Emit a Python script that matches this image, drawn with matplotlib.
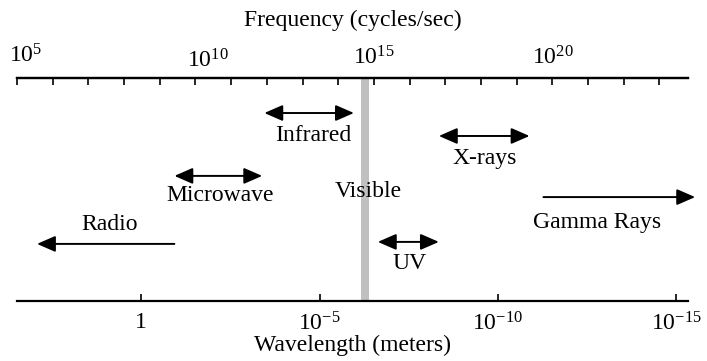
import matplotlib
matplotlib.use("Agg")
import matplotlib.pyplot as plt
import matplotlib.transforms as mtransforms
import numpy as np

plt.rcParams['font.family'] = ['Liberation Serif', 'DejaVu Serif']
plt.rcParams['mathtext.fontset'] = 'custom'
plt.rcParams['mathtext.rm'] = 'Liberation Serif'
plt.rcParams['mathtext.it'] = 'Liberation Serif:italic'

FS = 17
C = 3e8  # speed of light, m/s

# Frequency axis (Hz)
freq_min_exp, freq_max_exp = 5, 23.8
freq_major_exps = [5, 10, 15, 20]
freq_minor_exps = list(range(5, 24))
# Wavelength axis (m)
wl_exps = [0, -5, -10, -15]
wl_labels = ['1', '$10^{-5}$', '$10^{-10}$', '$10^{-15}$']

# Bands: name, frequency exponents (start, end), arrow style, arrow y, label x exp, label y
band_names = ['Radio', 'Microwave', 'Infrared', 'UV', 'X-rays', 'Gamma Rays']
band_start = [9.41, 9.41, 11.93, 15.11, 16.82, 19.75]
band_end = [5.56, 11.87, 14.44, 16.82, 19.36, 24.0]
band_style = ['-|>', '<|-|>', '<|-|>', '<|-|>', '<|-|>', '-|>']
band_arrow_y = [0.256, 0.561, 0.843, 0.265, 0.740, 0.466]
band_label_x = [7.60, 10.70, 13.30, 16.0, 18.10, 21.25]
band_label_y = [0.345, 0.475, 0.744, 0.170, 0.641, 0.354]

# Visible band in wavelength (m)
visible_wl = (7e-7, 4e-7)

fig = plt.figure(figsize=(7.07, 3.61), dpi=100)
ax = fig.add_axes([17/707, 1 - 301/361, (688 - 17)/707, 223/361])
ax.set_xscale('log')
ax.set_xlim(10.0**freq_min_exp, 10.0**freq_max_exp)
ax.set_ylim(0, 1)
for s in ['left', 'right']:
    ax.spines[s].set_visible(False)
for s in ['top', 'bottom']:
    ax.spines[s].set_linewidth(1.6)

# bottom axis: wavelength
ax.set_xticks([C / 10.0**e for e in wl_exps])
ax.set_xticklabels(wl_labels, fontsize=FS)
ax.xaxis.set_minor_locator(matplotlib.ticker.NullLocator())
ax.tick_params(axis='x', which='major', direction='in', length=5, width=1.2, pad=8)
ax.set_yticks([])
ax.set_xlabel('Wavelength (meters)', fontsize=FS, labelpad=0)

# top axis: frequency
axt = ax.twiny()
axt.set_xscale('log')
axt.set_xlim(ax.get_xlim())
axt.set_xticks([10.0**e for e in freq_major_exps])
axt.set_xticklabels(['$10^{%d}$' % e for e in freq_major_exps], fontsize=FS)
axt.set_xticks([10.0**e for e in freq_minor_exps if e not in freq_major_exps], minor=True)
axt.tick_params(axis='x', which='both', direction='in', length=5, width=1.2, pad=6)
axt.tick_params(axis='x', which='minor', labeltop=False)
for s in ['left', 'right', 'bottom']:
    axt.spines[s].set_visible(False)
axt.spines['top'].set_linewidth(1.6)
axt.set_xlabel('Frequency (cycles/sec)', fontsize=FS, labelpad=13)

# shift the first two frequency labels as in the reference
fig.canvas.draw()
shifts = [(9, 2), (12, -3), (0, 0), (0, 0)]
for lab, (dx, dy) in zip(axt.get_xticklabels(), shifts):
    lab.set_transform(lab.get_transform() +
                      mtransforms.ScaledTranslation(dx / 100, dy / 100, fig.dpi_scale_trans))

# visible band
ax.axvspan(C / visible_wl[0], C / visible_wl[1], color='#c0c0c0', lw=0)
ax.text(10.0**14.85, 0.489, 'Visible', fontsize=FS, ha='center', va='center')

for name, s, e, st, ay, lx, ly in zip(band_names, band_start, band_end, band_style,
                                     band_arrow_y, band_label_x, band_label_y):
    ax.annotate('', xy=(10.0**e, ay), xytext=(10.0**s, ay),
                xycoords='data', textcoords='data', annotation_clip=False,
                arrowprops=dict(arrowstyle=st + ',head_length=0.62,head_width=0.27',
                                mutation_scale=18, color='black', lw=1.4,
                                shrinkA=0, shrinkB=0))
    ax.text(10.0**lx, ly, name, fontsize=FS, ha='center', va='center')

fig.savefig('out.png', dpi=100)
